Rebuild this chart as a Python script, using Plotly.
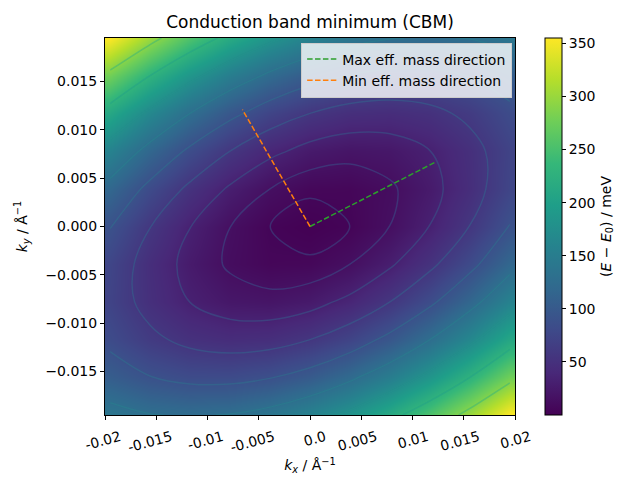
import numpy as np
import plotly.graph_objects as go
from plotly.colors import sample_colorscale, unlabel_rgb

# k-grid (1/Å)
kx_vals = [-0.0195, -0.0156, -0.0117, -0.0078, -0.0039, 0.0, 0.0039, 0.0078, 0.0117, 0.0156, 0.0195]
ky_vals = [-0.0195, -0.0156, -0.0117, -0.0078, -0.0039, 0.0, 0.0039, 0.0078, 0.0117, 0.0156, 0.0195]

# E - E0 (meV), rows follow ky_vals, columns follow kx_vals
energy_rows = [
    [139.8, 129.0, 125.5, 129.1, 139.8, 157.8, 182.9, 215.2, 254.6, 301.2, 355.0],
    [104.5, 89.5, 81.6, 80.9, 87.3, 101.0, 121.8, 149.7, 184.9, 227.2, 276.7],
    [81.8, 62.5, 50.3, 45.3, 47.5, 56.8, 73.3, 97.0, 127.8, 165.8, 211.0],
    [71.8, 48.2, 31.7, 22.4, 20.2, 25.2, 37.4, 56.8, 83.3, 117.0, 157.9],
    [74.4, 46.4, 25.7, 12.0, 5.6, 6.3, 14.2, 29.3, 51.5, 80.9, 117.4],
    [89.6, 57.3, 32.3, 14.3, 3.6, 0.0, 3.6, 14.3, 32.3, 57.3, 89.6],
    [117.4, 80.9, 51.5, 29.3, 14.2, 6.3, 5.6, 12.0, 25.7, 46.4, 74.4],
    [157.9, 117.0, 83.3, 56.8, 37.4, 25.2, 20.2, 22.4, 31.7, 48.2, 71.8],
    [211.0, 165.8, 127.8, 97.0, 73.3, 56.8, 47.5, 45.3, 50.3, 62.5, 81.8],
    [276.7, 227.2, 184.9, 149.7, 121.8, 101.0, 87.3, 80.9, 81.6, 89.5, 104.5],
    [355.0, 301.2, 254.6, 215.2, 182.9, 157.8, 139.8, 129.1, 125.5, 129.0, 139.8],
]

# contour line energies (meV)
contour_levels = [3.55, 14.2, 31.9, 56.8, 88.7, 127.8, 174.0, 227.2, 287.6]

# effective-mass direction segments (start, end)
max_dir_kx = [0.0, 0.0123]
max_dir_ky = [0.0, 0.0067]
min_dir_kx = [0.0, -0.0066]
min_dir_ky = [0.0, 0.0121]

x_tick_vals = [-0.02, -0.015, -0.01, -0.005, 0.0, 0.005, 0.01, 0.015, 0.02]
x_tick_text = ["-0.02", "-0.015", "-0.01", "-0.005", "0.0", "0.005", "0.01", "0.015", "0.02"]
y_tick_vals = [-0.015, -0.01, -0.005, 0.0, 0.005, 0.01, 0.015]
cbar_ticks = [50, 100, 150, 200, 250, 300, 350]

FONT = "DejaVu Sans"
FS = 14

fig = go.Figure()

fig.add_trace(go.Heatmap(
    x=kx_vals, y=ky_vals, z=energy_rows,
    colorscale="Viridis", zsmooth="best",
    hoverinfo="skip",
    colorbar=dict(
        x=1.073, xanchor="left", xref="paper", xpad=0, ypad=0,
        y=0.5, yanchor="middle", len=1.0, lenmode="fraction",
        thickness=17, outlinewidth=1, outlinecolor="black",
        ticks="outside", ticklen=4, tickwidth=1, tickcolor="black",
        tickvals=cbar_ticks, tickfont=dict(family=FONT, size=FS, color="black"),
        title=dict(text="(<i>E</i> − <i>E</i><sub>0</sub>) / meV", side="right",
                   font=dict(family=FONT, size=FS, color="black")),
    ),
))

# contour lines: traced on sqrt(E) (cone-shaped, interpolates well on the grid)
z_sqrt = np.sqrt(np.array(energy_rows))
zmax = float(np.max(energy_rows))
for lev in contour_levels:
    c = sample_colorscale("Viridis", [min(1.0, 0.25 + 0.5 * lev / zmax)])[0]
    r, g, b = unlabel_rgb(c)
    col = "rgba(%d,%d,%d,0.5)" % (round(r), round(g), round(b))
    s = float(np.sqrt(lev))
    fig.add_trace(go.Contour(
        x=kx_vals, y=ky_vals, z=z_sqrt,
        contours=dict(start=s, end=s, size=1, coloring="none"),
        line=dict(color=col, width=1.5, smoothing=1.0),
        showscale=False, showlegend=False, hoverinfo="skip",
    ))

fig.add_trace(go.Scatter(
    x=max_dir_kx, y=max_dir_ky, mode="lines", name="Max eff. mass direction",
    line=dict(color="#2ca02c", width=1.5, dash="5.5px,2.4px"),
))
fig.add_trace(go.Scatter(
    x=min_dir_kx, y=min_dir_ky, mode="lines", name="Min eff. mass direction",
    line=dict(color="#ff7f0e", width=1.5, dash="5.5px,2.4px"),
))

fig.update_layout(
    width=640, height=480,
    margin=dict(l=105, r=125, t=38, b=65),
    paper_bgcolor="white", plot_bgcolor="white",
    font=dict(family=FONT, size=FS, color="black"),
    title=dict(text="Conduction band minimum (CBM)", x=0.5, xref="paper",
               y=1 - 22 / 480, yref="container", yanchor="middle",
               font=dict(family=FONT, size=17, color="black")),
    legend=dict(x=0.993, y=0.988, xanchor="right", yanchor="top",
                bgcolor="rgba(255,255,255,0.8)", bordercolor="#cccccc", borderwidth=1,
                font=dict(family=FONT, size=FS, color="black")),
    showlegend=True,
)

fig.update_xaxes(
    range=[-0.02, 0.02], tickvals=x_tick_vals, ticktext=x_tick_text, tickangle=-15,
    ticklabelshift=15, ticklabelstandoff=4,
    showgrid=False, zeroline=False, showline=True, linecolor="black", linewidth=1, mirror=True,
    ticks="outside", ticklen=4, tickwidth=1, tickcolor="black",
    tickfont=dict(family=FONT, size=FS, color="black"),
    title=dict(text="<i>k</i><sub><i>x</i></sub> / Å<sup>−1</sup>", standoff=6,
               font=dict(family=FONT, size=FS, color="black")),
    automargin=False,
)
fig.update_yaxes(
    range=[-0.0195, 0.0195], tickvals=y_tick_vals, tickformat=".3f",
    showgrid=False, zeroline=False, showline=True, linecolor="black", linewidth=1, mirror=True,
    ticks="outside", ticklen=4, tickwidth=1, tickcolor="black",
    tickfont=dict(family=FONT, size=FS, color="black"),
    title=dict(text="<i>k</i><sub><i>y</i></sub> / Å<sup>−1</sup>", standoff=14,
               font=dict(family=FONT, size=FS, color="black")),
    automargin=False,
)

fig.write_html("out.html", config={"displayModeBar": False},
               post_script="document.body.style.margin='0';")
